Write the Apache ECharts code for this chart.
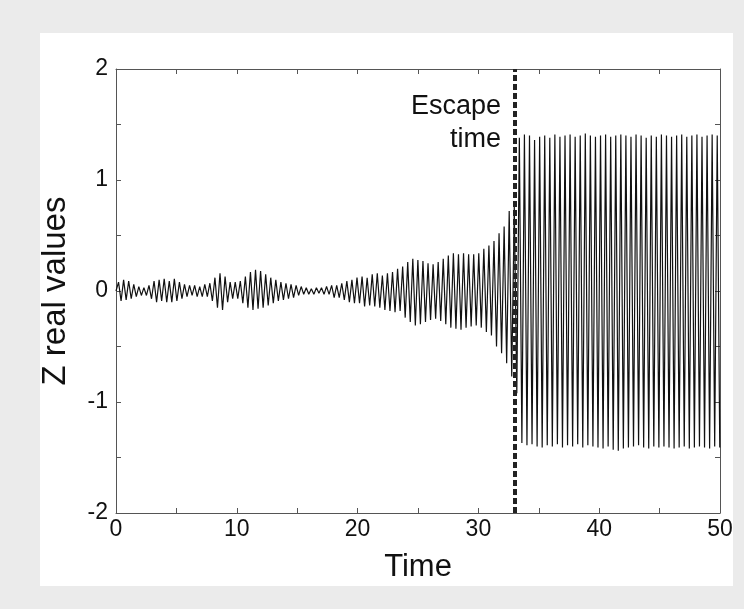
<!DOCTYPE html>
<html>
<head>
<meta charset="utf-8">
<script src="https://cdn.jsdelivr.net/npm/echarts@6/dist/echarts.min.js"></script>
<style>
  html, body { margin: 0; padding: 0; background: #ebebeb; }
  #chart { width: 744px; height: 609px; }
</style>
</head>
<body>
<div id="chart"></div>
<script>
// time between successive extrema of the oscillation
const sampleStep = 0.21
const escapeTime = 33

// extrema before the escape (t = 0 .. 33)
const zBuildUp = [
  0, 0.08, -0.09, 0.1, -0.08, 0.09, -0.07, 0.06, -0.05, 0.04,
  -0.04, 0.03, -0.04, 0.05, -0.07, 0.09, -0.1, 0.1, -0.09, 0.11,
  -0.1, 0.09, -0.1, 0.11, -0.09, 0.08, -0.07, 0.06, -0.05, 0.05,
  -0.04, 0.05, -0.05, 0.04, -0.05, 0.06, -0.05, 0.07, -0.09, 0.12,
  -0.15, 0.16, -0.17, 0.13, -0.1, 0.08, -0.07, 0.08, -0.07, 0.09,
  -0.11, 0.13, -0.15, 0.17, -0.17, 0.19, -0.16, 0.18, -0.15, 0.15,
  -0.13, 0.12, -0.11, 0.1, -0.09, 0.08, -0.08, 0.07, -0.07, 0.06,
  -0.06, 0.05, -0.04, 0.04, -0.03, 0.03, -0.03, 0.02, -0.03, 0.03,
  -0.02, 0.03, -0.03, 0.04, -0.03, 0.05, -0.06, 0.05, -0.06, 0.07,
  -0.08, 0.09, -0.1, 0.1, -0.11, 0.12, -0.11, 0.13, -0.14, 0.12,
  -0.13, 0.15, -0.14, 0.16, -0.15, 0.14, -0.17, 0.16, -0.18, 0.17,
  -0.19, 0.2, -0.18, 0.22, -0.24, 0.26, -0.28, 0.29, -0.31, 0.28,
  -0.3, 0.27, -0.28, 0.25, -0.26, 0.24, -0.25, 0.26, -0.27, 0.29,
  -0.3, 0.32, -0.33, 0.34, -0.34, 0.33, -0.35, 0.34, -0.33, 0.33,
  -0.32, 0.33, -0.31, 0.34, -0.33, 0.38, -0.37, 0.41, -0.4, 0.45,
  -0.5, 0.52, -0.56, 0.58, -0.65, 0.72, -0.77, 0.76, -0.92
]

// extrema after the escape (t = 33 .. 50)
const zEscaped = [
  1.38, -1.37, 1.41, -1.39, 1.40, -1.38, 1.36, -1.40, 1.39, -1.41,
  1.40, -1.39, 1.38, -1.40, 1.41, -1.38, 1.39, -1.41, 1.40, -1.39,
  1.41, -1.40, 1.39, -1.38, 1.40, -1.41, 1.42, -1.39, 1.40, -1.40,
  1.39, -1.41, 1.40, -1.42, 1.41, -1.40, 1.39, -1.43, 1.40, -1.44,
  1.41, -1.42, 1.40, -1.41, 1.39, -1.40, 1.41, -1.39, 1.40, -1.41,
  1.38, -1.42, 1.40, -1.40, 1.39, -1.41, 1.41, -1.40, 1.40, -1.41,
  1.39, -1.42, 1.40, -1.41, 1.41, -1.40, 1.39, -1.42, 1.40, -1.41,
  1.41, -1.40, 1.39, -1.41, 1.40, -1.42, 1.41, -1.40, 1.40, -1.41
]

const yTickLabels = [-2, -1, 0, 1, 2]
const xTickLabels = [0, 10, 20, 30, 40, 50]

const zValues = zBuildUp.concat(zEscaped)
const seriesData = zValues.map((v, i) => [+(i * sampleStep).toFixed(2), v])

const font = '"Liberation Sans", Arial, Helvetica, sans-serif'
const axisColor = '#555'
const textColor = '#111'

const baseX = {
  type: 'value',
  min: 0,
  max: 50,
  interval: 5,
  splitLine: { show: false },
  axisLine: { show: true, onZero: false, lineStyle: { color: axisColor, width: 1 } },
  axisTick: { show: true, inside: true, length: 5, lineStyle: { color: axisColor } }
}
const baseY = {
  type: 'value',
  min: -2,
  max: 2,
  interval: 0.5,
  splitLine: { show: false },
  axisLine: { show: true, onZero: false, lineStyle: { color: axisColor, width: 1 } },
  axisTick: { show: true, inside: true, length: 5, lineStyle: { color: axisColor } }
}

const option = {
  animation: false,
  backgroundColor: 'transparent',
  graphic: [
    { type: 'rect', z: -10, shape: { x: 40, y: 33, width: 693, height: 553 }, style: { fill: '#ffffff' } },
    {
      type: 'text', z: 10, x: 501, y: 90,
      style: {
        text: 'Escape\ntime', align: 'right', lineHeight: 33,
        font: '27px ' + font, fill: textColor
      }
    }
  ],
  grid: { left: 116, right: 24, top: 69, bottom: 96, containLabel: false },
  xAxis: [
    Object.assign({}, baseX, {
      position: 'bottom',
      name: 'Time',
      nameLocation: 'middle',
      nameGap: 39,
      nameTextStyle: { fontSize: 31, color: textColor, fontFamily: font },
      axisLabel: {
        fontSize: 23, color: textColor, fontFamily: font, margin: 5,
        formatter: v => xTickLabels.indexOf(v) >= 0 ? String(v) : ''
      }
    }),
    Object.assign({}, baseX, { position: 'top', axisLabel: { show: false } })
  ],
  yAxis: [
    Object.assign({}, baseY, {
      position: 'left',
      name: 'Z real values',
      nameLocation: 'middle',
      nameGap: 44,
      nameRotate: 90,
      nameTextStyle: { fontSize: 33, color: textColor, fontFamily: font },
      axisLabel: {
        fontSize: 23, color: textColor, fontFamily: font, margin: 8,
        formatter: v => yTickLabels.indexOf(v) >= 0 ? String(v) : ''
      }
    }),
    Object.assign({}, baseY, { position: 'right', axisLabel: { show: false } })
  ],
  series: [
    {
      type: 'line',
      data: seriesData,
      xAxisIndex: 0,
      yAxisIndex: 0,
      showSymbol: false,
      symbol: 'none',
      lineStyle: { color: '#111', width: 1.2 },
      markLine: {
        silent: true,
        symbol: 'none',
        label: { show: false },
        lineStyle: { color: '#222', width: 4, type: [6, 3] },
        data: [{ xAxis: escapeTime }]
      }
    }
  ]
}

const chart = echarts.init(document.getElementById('chart'))
chart.setOption(option)
</script>
</body>
</html>
